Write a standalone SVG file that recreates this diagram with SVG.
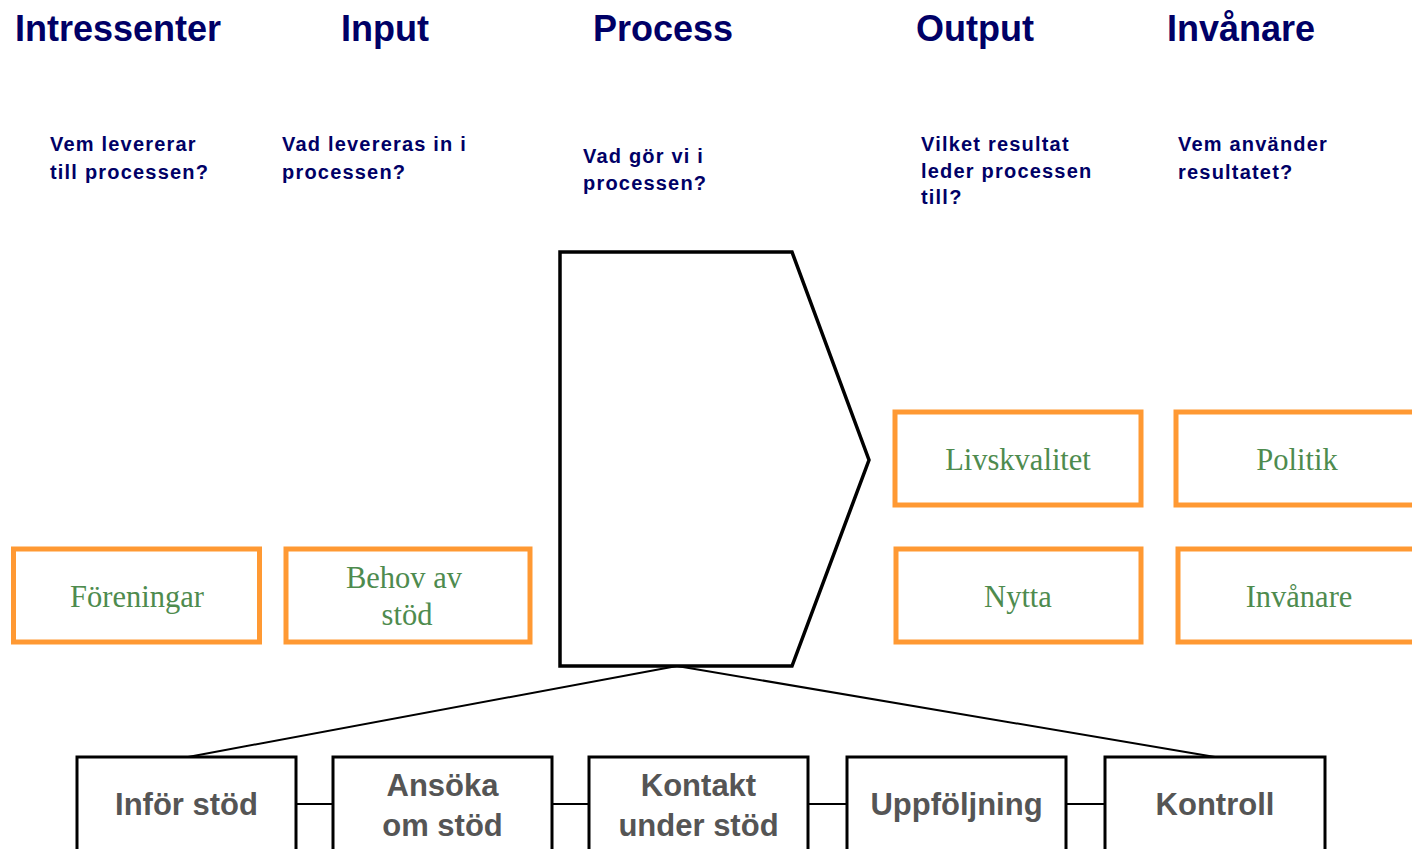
<svg xmlns="http://www.w3.org/2000/svg" width="1412" height="849" viewBox="0 0 1412 849">
<style>
.hd{font-family:"Liberation Sans",Arial,sans-serif;font-weight:bold;font-size:36px;fill:#000066}
.q{font-family:"Liberation Sans",Arial,sans-serif;font-weight:bold;font-size:20px;fill:#000066;letter-spacing:1.2px}
.ob{fill:#fff;stroke:#FF9933;stroke-width:5}
.ot{font-family:"Liberation Serif","Times New Roman",serif;font-size:30.5px;fill:#4E8B4E;text-anchor:middle}
.bb{fill:#fff;stroke:#000;stroke-width:3}
.bt{font-family:"Liberation Sans",Arial,sans-serif;font-weight:bold;font-size:31px;fill:#555555;text-anchor:middle}
.ln{stroke:#000;stroke-width:2;fill:none}
</style>
<rect width="1412" height="849" fill="#fff"/>
<g id="headers">
<text class="hd" x="15" y="41">Intressenter</text>
<text class="hd" x="341" y="41">Input</text>
<text class="hd" x="593" y="41">Process</text>
<text class="hd" x="916" y="41">Output</text>
<text class="hd" x="1167" y="41">Invånare</text>
</g>
<g id="questions">
<text class="q" x="50" y="151">Vem levererar</text>
<text class="q" x="50" y="179">till processen?</text>
<text class="q" x="282" y="151">Vad levereras in i</text>
<text class="q" x="282" y="179">processen?</text>
<text class="q" x="583" y="163">Vad gör vi i</text>
<text class="q" x="583" y="190">processen?</text>
<text class="q" x="921" y="151">Vilket resultat</text>
<text class="q" x="921" y="178">leder processen</text>
<text class="q" x="921" y="204">till?</text>
<text class="q" x="1178" y="151">Vem använder</text>
<text class="q" x="1178" y="179">resultatet?</text>
</g>
<g id="connectors">
<line class="ln" x1="677" y1="666" x2="188" y2="757"/>
<line class="ln" x1="677" y1="666" x2="1215" y2="757"/>
<line class="ln" x1="296" y1="804" x2="333" y2="804"/>
<line class="ln" x1="552" y1="804" x2="589" y2="804"/>
<line class="ln" x1="808" y1="804" x2="847" y2="804"/>
<line class="ln" x1="1066" y1="804" x2="1105" y2="804"/>
</g>
<g id="process">
<polygon points="560,252 792,252 869,460 792,666 560,666" fill="#fff" stroke="#000" stroke-width="3.5"/>
</g>
<g id="foreningar">
<rect class="ob" x="13.5" y="549" width="246" height="93"/>
<text class="ot" x="137" y="607">Föreningar</text>
</g>
<g id="behov">
<rect class="ob" x="286" y="549" width="244" height="93"/>
<text class="ot" x="404" y="588">Behov av</text>
<text class="ot" x="407" y="625">stöd</text>
</g>
<g id="livskvalitet">
<rect class="ob" x="895" y="412" width="246" height="93"/>
<text class="ot" x="1018" y="470">Livskvalitet</text>
</g>
<g id="politik">
<rect class="ob" x="1176" y="412" width="250" height="93"/>
<text class="ot" x="1297" y="470">Politik</text>
</g>
<g id="nytta">
<rect class="ob" x="896" y="549" width="245" height="93"/>
<text class="ot" x="1018" y="607">Nytta</text>
</g>
<g id="invanare">
<rect class="ob" x="1178" y="549" width="250" height="93"/>
<text class="ot" x="1299" y="607">Invånare</text>
</g>
<g id="infor">
<rect class="bb" x="77" y="757" width="219" height="100"/>
<text class="bt" x="186.5" y="815">Inför stöd</text>
</g>
<g id="ansoka">
<rect class="bb" x="333" y="757" width="219" height="100"/>
<text class="bt" x="442.5" y="796">Ansöka</text>
<text class="bt" x="442.5" y="836">om stöd</text>
</g>
<g id="kontakt">
<rect class="bb" x="589" y="757" width="219" height="100"/>
<text class="bt" x="698.5" y="796">Kontakt</text>
<text class="bt" x="698.5" y="836">under stöd</text>
</g>
<g id="uppfoljning">
<rect class="bb" x="847" y="757" width="219" height="100"/>
<text class="bt" x="956.5" y="815">Uppföljning</text>
</g>
<g id="kontroll">
<rect class="bb" x="1105" y="757" width="220" height="100"/>
<text class="bt" x="1215" y="815">Kontroll</text>
</g>
</svg>
